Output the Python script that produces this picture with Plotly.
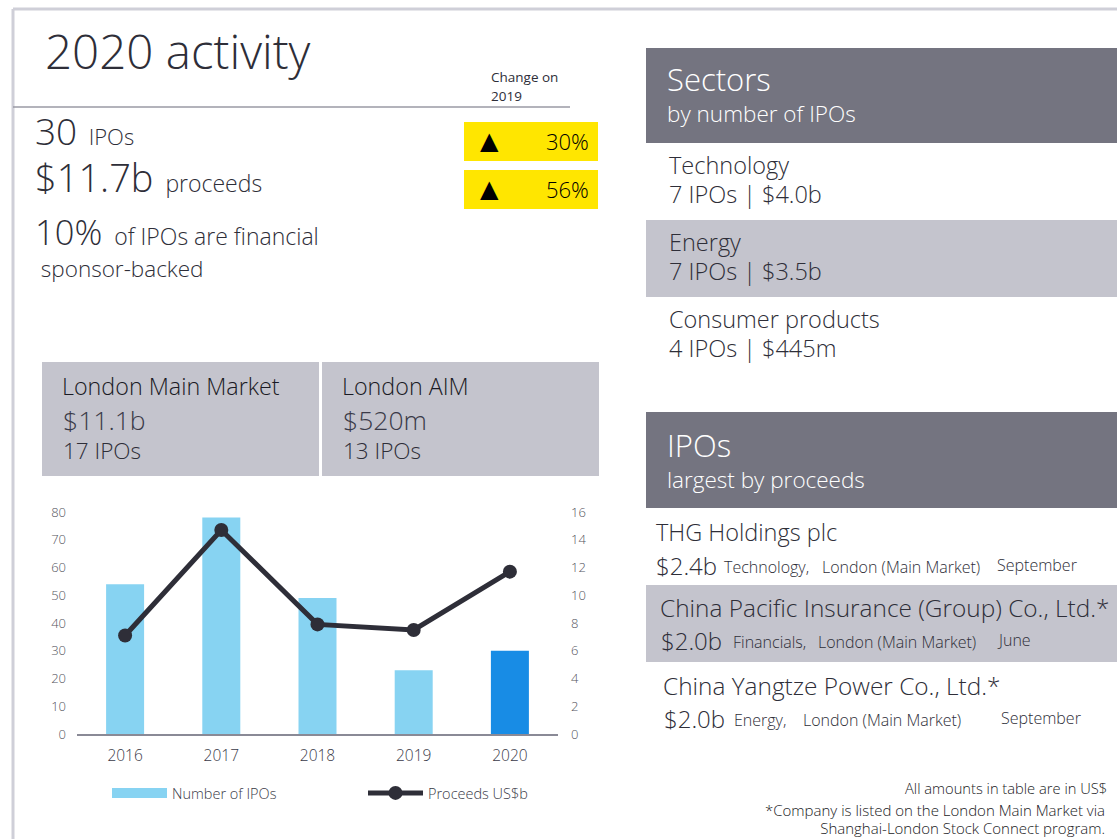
import plotly.graph_objects as go

# ---------------- data ----------------
years = ["2016", "2017", "2018", "2019", "2020"]
ipo_counts = [54, 78, 49, 23, 30]
proceeds_usd_b = [7.1, 14.7, 7.9, 7.5, 11.7]

left_ticks = [0, 10, 20, 30, 40, 50, 60, 70, 80]
right_ticks = [0, 2, 4, 6, 8, 10, 12, 14, 16]

headline_ipos = "30"
headline_proceeds = "$11.7b"
headline_sponsor = "10%"
change_ipos = "30%"
change_proceeds = "56%"

markets = ["London Main Market", "London AIM"]
market_proceeds = ["$11.1b", "$520m"]
market_ipos = ["17 IPOs", "13 IPOs"]

sectors = ["Technology", "Energy", "Consumer products"]
sector_ipos = ["7 IPOs", "7 IPOs", "4 IPOs"]
sector_proceeds = ["$4.0b", "$3.5b", "$445m"]

top_names = ["THG Holdings plc", "China Pacific Insurance (Group) Co., Ltd.*", "China Yangtze Power Co., Ltd.*"]
top_amounts = ["$2.4b", "$2.0b", "$2.0b"]
top_sectors = ["Technology,", "Financials,", "Energy,"]
top_markets = ["London (Main Market)", "London (Main Market)", "London (Main Market)"]
top_months = ["September", "June", "September"]

# ---------------- style ----------------
W, H = 1117, 839
FONT = "Open Sans, Roboto, Arial, sans-serif"
WEIGHT = 300
ASC = 1.069  # Open Sans ascent (em)
DARK = "#2e2e38"
LIGHT_BLUE = "#87d3f2"
BLUE = "#188ce5"
HEADER = "#747480"
BAND = "#c4c4cd"
YELLOW = "#ffe600"


def X(px):
    return px / W


def Y(py):
    return 1 - py / H


fig = go.Figure()

bar_colors = [BLUE if y == "2020" else LIGHT_BLUE for y in years]
fig.add_trace(go.Bar(x=years, y=ipo_counts, marker=dict(color=bar_colors, line=dict(width=0)),
                     name="Number of IPOs", showlegend=False, yaxis="y", hoverinfo="skip"))
# legend-only swatch for bars (wide rectangle as in reference)
fig.add_trace(go.Scatter(x=[None], y=[None], mode="lines", line=dict(color=LIGHT_BLUE, width=10),
                         name="Number of IPOs"))
fig.add_trace(go.Scatter(x=years, y=proceeds_usd_b, mode="lines+markers", name="Proceeds US$b",
                         line=dict(color=DARK, width=5), marker=dict(color=DARK, size=14),
                         yaxis="y2"))

shapes = []
annotations = []


def rect(x0, y0, x1, y1, color):
    shapes.append(dict(type="rect", xref="paper", yref="paper", x0=X(x0), x1=X(x1), y0=Y(y1), y1=Y(y0),
                       fillcolor=color, line=dict(width=0), layer="below"))


def line(x0, y0, x1, y1, color, width):
    shapes.append(dict(type="line", xref="paper", yref="paper", x0=X(x0), x1=X(x1), y0=Y(y0), y1=Y(y1),
                       line=dict(color=color, width=width)))


def txt(x, y, text, size, color=DARK, xanchor="left", align="left", weight=WEIGHT, family=FONT,
        yanchor="middle"):
    annotations.append(dict(xref="paper", yref="paper", x=X(x), y=Y(y), text=text, showarrow=False,
                            xanchor=xanchor, yanchor=yanchor, align=align, borderpad=0, borderwidth=0,
                            font=dict(family=family, size=size, color=color, weight=weight)))


def sp(s, size, color=None):
    c = f";color:{color}" if color else ""
    return f'<span style="font-size:{size}px{c}">{s}</span>'


def stack(x, baseline1, max1, spacing, lines, color=DARK, xanchor="left", align="left", weight=WEIGHT):
    """Multi-line text block; line spacing = 1.3 * base font size."""
    base = spacing / 1.3
    txt(x, baseline1 - ASC * max1, "<br>".join(lines), base, color, xanchor=xanchor, align=align,
        yanchor="top", weight=weight)


# frame
line(13, 9, W, 9, "#cfcfd8", 3)
line(13, 9, 13, H, "#cfcfd8", 3)
line(13, 107, 570, 107, "#9a9aa4", 1.5)

# title + headline stats
txt(45, 51, "2020 activity", 47.5)
stack(491, 82, 13.5, 18.5, [sp("Change on", 13.5), sp("2019", 13.5)], weight=400)
stack(35, 145, 37, 47, [sp(headline_ipos, 37) + sp("  IPOs", 22),
                        sp(headline_proceeds, 38) + sp("  proceeds", 23)])
stack(35, 244.5, 34.5, 31.5, [sp(headline_sponsor, 34.5) + sp("  of IPOs are financial", 23),
                              sp("&nbsp;sponsor-backed", 22.5)])

rect(464, 122, 598, 161, YELLOW)
rect(464, 170, 598, 209, YELLOW)
for yc, val in [(141, change_ipos), (189, change_proceeds)]:
    txt(489, yc, "▲", 24, "#000000", xanchor="center", family="DejaVu Sans", weight=400)
    txt(589, yc, val, 22, "#000000", xanchor="right")

# market boxes
for i, x0 in enumerate([42, 322]):
    rect(x0, 362, x0 + 277, 476, BAND)
    txt(x0 + 20, 385.5, markets[i], 23.3, "#1a1a24")
    stack(x0 + 21, 430.5, 26.5, 29, [sp(market_proceeds[i], 26.5, "#3a3a48"), sp(market_ipos[i], 22.5)])

# sectors panel
rect(646, 48, W, 143, HEADER)
stack(667, 91, 31, 30.5, [sp("Sectors", 31), sp("by number of IPOs", 22.5)], color="#ffffff")
row_tops = [143, 220, 297]
for i, top in enumerate(row_tops):
    if i == 1:
        rect(646, top, W, top + 77, BAND)
    stack(669, top + 31.4, 23.5, 29,
          [sp(sectors[i], 23.5), sp(f"{sector_ipos[i]} | {sector_proceeds[i]}", 23.5)])

# largest IPOs panel
rect(646, 412, W, 508, HEADER)
stack(667, 457.5, 31, 30.5, [sp("IPOs", 31), sp("largest by proceeds", 22.5)], color="#ffffff")
rect(646, 585, W, 662, BAND)
ipo_rows = [
    # name_x, name_y, amt_x, amt_y, sector_x, market_x, month_x
    (656, 532, 656, 565, 724, 822, 997),
    (660, 607, 661, 640, 733, 818, 997),
    (663, 685, 664, 718, 734, 803, 1001),
]
for i, (nx, ny, ax, ay, sx, mx, mox) in enumerate(ipo_rows):
    txt(nx, ny, top_names[i], 24.4 if i else 23.5, DARK)
    txt(ax, ay, top_amounts[i], 24, DARK)
    txt(sx, ay + 2, top_sectors[i], 16, DARK)
    txt(mx, ay + 2, top_markets[i], 16, DARK)
    txt(mox, ay, top_months[i], 16, DARK)

txt(1107, 788, "All amounts in table are in US$", 14.7, "#1a1a24", xanchor="right")
stack(1105, 816.5, 15, 18, [sp("*Company is listed on the London Main Market via", 15),
                            sp("Shanghai-London Stock Connect program.", 15)],
      color="#1a1a24", xanchor="right", align="right")

fig.update_layout(
    width=W, height=H, autosize=False,
    margin=dict(l=0, r=0, t=0, b=0, pad=0, autoexpand=False),
    paper_bgcolor="#ffffff", plot_bgcolor="#ffffff",
    font=dict(family=FONT, color=DARK, weight=WEIGHT),
    bargap=0.605,
    shapes=shapes, annotations=annotations,
    xaxis=dict(domain=[X(77), X(558)], type="category", showgrid=False, zeroline=False,
               showline=True, linecolor="#8a8a96", linewidth=2, ticks="", automargin=False,
               tickfont=dict(size=15.5, color="#3a3a48"), ticklabelstandoff=6, fixedrange=True),
    yaxis=dict(domain=[Y(734), Y(512)], range=[0, 80], tickvals=left_ticks, showgrid=False,
               zeroline=False, showline=False, ticks="", tickfont=dict(size=13, color="#555560"),
               ticklabelstandoff=10, fixedrange=True, automargin=False),
    yaxis2=dict(overlaying="y", side="right", anchor="x", range=[0, 16], tickvals=right_ticks,
                showgrid=False, zeroline=False, showline=False, ticks="", automargin=False,
                tickfont=dict(size=13, color="#555560"), ticklabelstandoff=12, fixedrange=True),
    legend=dict(orientation="h", x=X(107), y=Y(793), xanchor="left", yanchor="middle",
                itemwidth=55, entrywidth=186, entrywidthmode="pixels",
                font=dict(size=14.5, color="#3a3a48"), bgcolor="rgba(0,0,0,0)",
                itemclick=False, itemdoubleclick=False),
    showlegend=True,
)

fig.write_html("out.html", config={"displayModeBar": False},
               post_script="document.body.style.margin='0';")
